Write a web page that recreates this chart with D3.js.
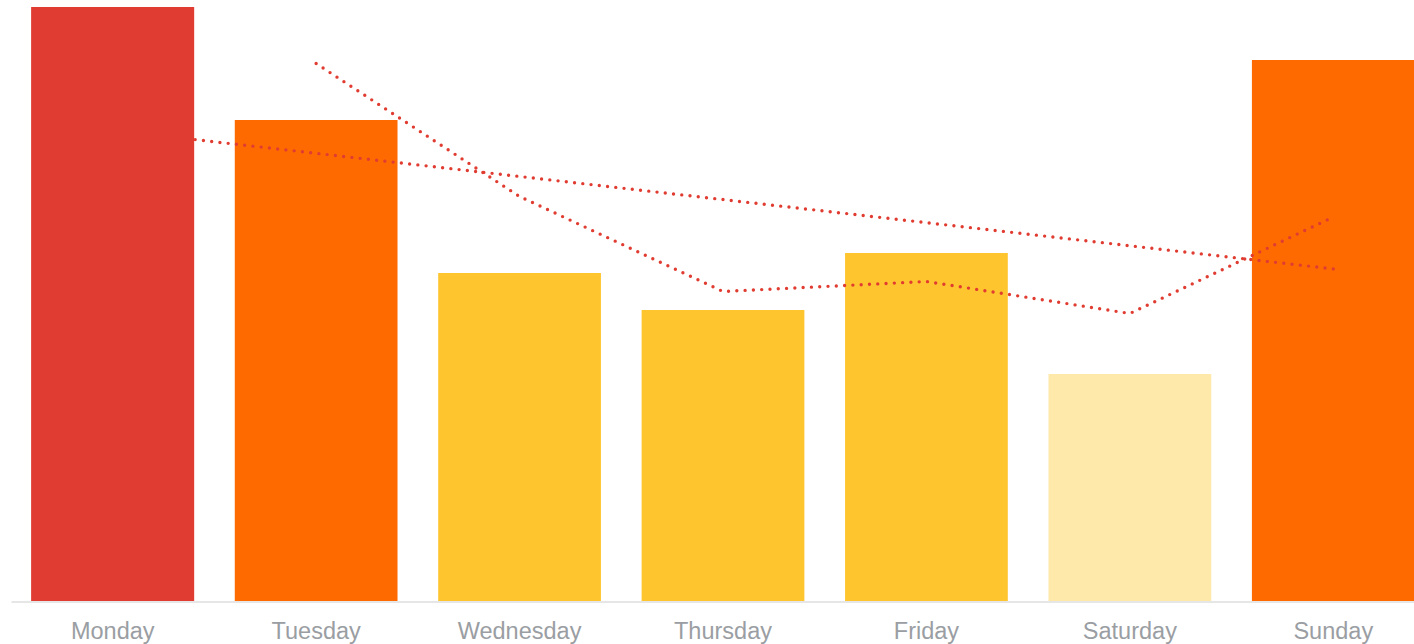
<!DOCTYPE html>
<html>
<head>
<meta charset="utf-8">
<script src="https://cdn.jsdelivr.net/npm/d3@7"></script>
<style>
  body { margin: 0; background: #fff; }
  svg { display: block; }
</style>
</head>
<body>
<script>
const days = ["Monday", "Tuesday", "Wednesday", "Thursday", "Friday", "Saturday", "Sunday"];
const values = [594, 481, 328, 291, 348, 227, 541];

const w = 1414;
const h = 644;
const baseY = 601;

// 2-period moving average
const movingAvg = values.slice(1).map((v, i) => ({ day: days[i + 1], v: (v + values[i]) / 2 }));

// linear trend
const n = values.length;
const meanX = (n - 1) / 2;
const meanY = d3.mean(values);
let sxy = 0, sxx = 0;
values.forEach((v, i) => { sxy += (i - meanX) * (v - meanY); sxx += (i - meanX) * (i - meanX); });
const slope = sxy / sxx;
const trend = [
  { day: days[0], v: meanY - slope * meanX },
  { day: days[n - 1], v: meanY + slope * meanX },
];

const x = d3.scaleBand()
  .domain(days)
  .range([11, 1435])
  .paddingInner(0.2)
  .paddingOuter(0.1);

const y = d3.scaleLinear()
  .domain([0, 600])
  .range([baseY, 1]);

const color = d3.scaleThreshold()
  .domain([250, 400, 560])
  .range(["#fee8aa", "#ffc52e", "#ff6a00", "#e03c31"]);

const svg = d3.select("body")
  .append("svg")
  .attr("width", w)
  .attr("height", h);

svg.append("g")
  .selectAll("rect")
  .data(days)
  .enter()
  .append("rect")
  .attr("x", (d) => x(d))
  .attr("y", (d, i) => y(values[i]))
  .attr("width", x.bandwidth())
  .attr("height", (d, i) => baseY - y(values[i]))
  .attr("fill", (d, i) => color(values[i]));

const xAxis = d3.axisBottom(x).tickSize(0).tickPadding(21);

const ax = svg.append("g")
  .attr("transform", "translate(0," + (baseY + 0.5) + ")")
  .call(xAxis);
ax.select(".domain").attr("stroke", "#e6e6e6").attr("stroke-width", 2);
ax.selectAll("text")
  .attr("fill", "#9a9ea3")
  .style("font-family", "Liberation Sans, Arial, sans-serif")
  .style("font-size", "23.5px");

const line = d3.line()
  .x((d) => x(d.day) + x.bandwidth() / 2)
  .y((d) => y(d.v));

[trend, movingAvg].forEach((data) => {
  svg.append("path")
    .datum(data)
    .attr("d", line)
    .attr("fill", "none")
    .attr("stroke", "#e03c31")
    .attr("stroke-width", 3.4)
    .attr("stroke-linecap", "round")
    .attr("stroke-dasharray", "0 8.3");
});

// Monday bar sits above the trend line start
svg.append("rect")
  .attr("x", x(days[0]))
  .attr("y", y(values[0]))
  .attr("width", x.bandwidth())
  .attr("height", baseY - y(values[0]))
  .attr("fill", color(values[0]));
</script>
</body>
</html>
